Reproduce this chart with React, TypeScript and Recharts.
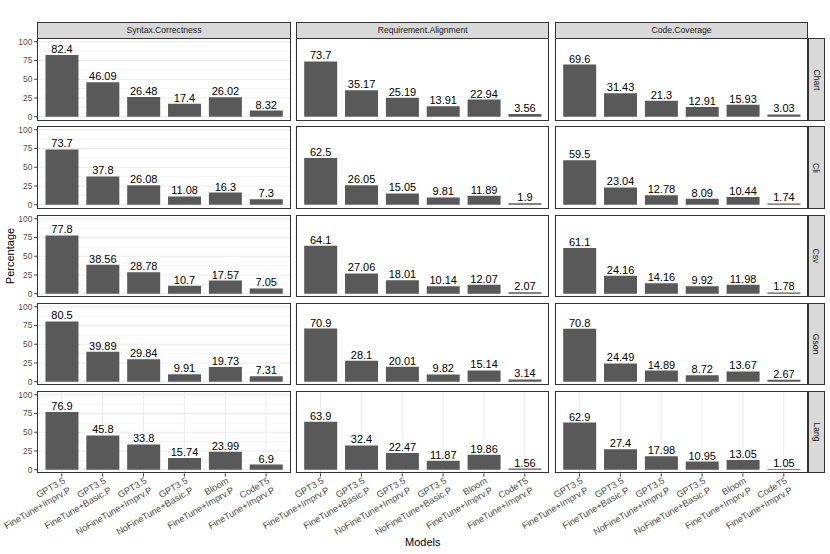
import { Bar, BarChart, CartesianGrid, LabelList, XAxis, YAxis } from "recharts";

const models = [
  "GPT3.5\nFineTune+Imprv.P",
  "GPT3.5\nFineTune+Basic.P",
  "GPT3.5\nNoFineTune+Imprv.P",
  "GPT3.5\nNoFineTune+Basic.P",
  "Bloom\nFineTune+Imprv.P",
  "CodeT5\nFineTune+Imprv.P"
];
const projects = ["Chart", "Cli", "Csv", "Gson", "Lang"];
const metrics = ["Syntax.Correctness", "Requirement.Alignment", "Code.Coverage"];

// rows follow projects order
const syntaxCorrectness = [
  [82.4, 46.09, 26.48, 17.4, 26.02, 8.32],
  [73.7, 37.8, 26.08, 11.08, 16.3, 7.3],
  [77.8, 38.56, 28.78, 10.7, 17.57, 7.05],
  [80.5, 39.89, 29.84, 9.91, 19.73, 7.31],
  [76.9, 45.8, 33.8, 15.74, 23.99, 6.9]
];
const requirementAlignment = [
  [73.7, 35.17, 25.19, 13.91, 22.94, 3.56],
  [62.5, 26.05, 15.05, 9.81, 11.89, 1.9],
  [64.1, 27.06, 18.01, 10.14, 12.07, 2.07],
  [70.9, 28.1, 20.01, 9.82, 15.14, 3.14],
  [63.9, 32.4, 22.47, 11.87, 19.86, 1.56]
];
const codeCoverage = [
  [69.6, 31.43, 21.3, 12.91, 15.93, 3.03],
  [59.5, 23.04, 12.78, 8.09, 10.44, 1.74],
  [61.1, 24.16, 14.16, 9.92, 11.98, 1.78],
  [70.8, 24.49, 14.89, 8.72, 13.67, 2.67],
  [62.9, 27.4, 17.98, 10.95, 13.05, 1.05]
];
const metricValues = [syntaxCorrectness, requirementAlignment, codeCoverage];

const yTicks = [0, 25, 50, 75, 100];
const yMinor = [12.5, 37.5, 62.5, 87.5];

const FONT = "'Liberation Sans', Arial, Helvetica, sans-serif";
const LEFT = 37.3;
const TOP = 38.3;
const PW = 253.3;
const PH = 82.5;
const STEP_X = 258.8;
const STEP_Y = 88.1;
const STRIP = 16.6;
const XAXIS_H = 75;
const PAD_L = 40; // room for rotated labels that lean left

function ModelTick({ x, y, payload }: any) {
  const [top, bottom] = String(payload.value).split("\n");
  return (
    <text
      transform={`translate(${x + 4},${y + 6}) rotate(-30)`}
      textAnchor="end"
      fontSize={9.2}
      fill="#4d4d4d"
      fontFamily={FONT}
    >
      <tspan x={0} dy={0}>{top}</tspan>
      <tspan x={0} dy={10.8}>{bottom}</tspan>
    </text>
  );
}

function Panel({ row, col }: { row: number; col: number }) {
  const rows = models.map((model, i) => ({ model, value: metricValues[col][row][i] }));
  const showY = col === 0;
  const showX = row === projects.length - 1;
  const panelLeft = LEFT + col * STEP_X;
  const left = showY ? 0 : panelLeft - PAD_L;
  const width = showY ? LEFT + PW : PW + PAD_L;
  const height = showX ? PH + XAXIS_H : PH;

  return (
    <div style={{ position: "absolute", left, top: TOP + row * STEP_Y }}>
      <BarChart
        width={width}
        height={height}
        data={rows}
        margin={{ top: 0, right: 0, bottom: 0, left: showY ? 0 : PAD_L }}
        barCategoryGap="10%"
      >
        <CartesianGrid stroke="#ebebeb" strokeWidth={1} horizontalValues={yTicks} />
        <CartesianGrid stroke="#ebebeb" strokeWidth={0.5} vertical={false} horizontalValues={yMinor} />
        <XAxis
          dataKey="model"
          interval={0}
          padding={{ left: 4.1, right: 4.1 }}
          height={showX ? XAXIS_H : 0}
          axisLine={false}
          tickLine={showX ? { stroke: "#333333" } : false}
          tickSize={3}
          tickMargin={0}
          tick={showX ? <ModelTick /> : false}
        />
        <YAxis
          type="number"
          domain={[-5, 105]}
          ticks={yTicks}
          interval={0}
          allowDataOverflow
          width={showY ? LEFT : 0}
          axisLine={false}
          tickLine={showY ? { stroke: "#333333" } : false}
          tickSize={3}
          tickMargin={2}
          tick={showY ? { fill: "#4d4d4d", fontSize: 8.4, fontFamily: FONT } : false}
        />
        <Bar dataKey="value" fill="#595959" isAnimationActive={false}>
          <LabelList dataKey="value" position="top" offset={2} fill="#000000" fontSize={11} fontFamily={FONT} />
        </Bar>
      </BarChart>
      <div
        style={{
          position: "absolute",
          left: showY ? LEFT : PAD_L,
          top: 0,
          width: PW,
          height: PH,
          border: "1px solid #333333",
          boxSizing: "border-box",
          pointerEvents: "none"
        }}
      />
    </div>
  );
}

export default function App() {
  const stripStyle = {
    position: "absolute" as const,
    background: "#d9d9d9",
    border: "1px solid #333333",
    boxSizing: "border-box" as const,
    display: "flex",
    alignItems: "center",
    justifyContent: "center",
    fontSize: 8.6,
    color: "#1a1a1a",
    fontFamily: FONT
  };

  return (
    <div
      style={{
        position: "absolute",
        left: 0,
        top: 0,
        width: 830,
        height: 554,
        background: "#ffffff",
        fontFamily: FONT,
        overflow: "hidden"
      }}
    >
      {metrics.map((m, c) => (
        <div
          key={m}
          style={{ ...stripStyle, left: LEFT + c * STEP_X, top: TOP - STRIP, width: PW, height: STRIP + 0.5 }}
        >
          {m}
        </div>
      ))}
      {projects.map((p, r) => (
        <div
          key={p}
          style={{ ...stripStyle, left: LEFT + 2 * STEP_X + PW - 0.5, top: TOP + r * STEP_Y, width: 17.3, height: PH }}
        >
          <span style={{ transform: "rotate(90deg)", whiteSpace: "nowrap" }}>{p}</span>
        </div>
      ))}
      {projects.map((p, r) => metrics.map((m, c) => <Panel key={p + m} row={r} col={c} />))}
      <div
        style={{
          position: "absolute",
          left: 10,
          top: TOP + (4 * STEP_Y + PH) / 2,
          transform: "translate(-50%, -50%) rotate(-90deg)",
          fontSize: 11,
          color: "#000",
          whiteSpace: "nowrap"
        }}
      >
        Percentage
      </div>
      <div
        style={{
          position: "absolute",
          left: LEFT + (2 * STEP_X + PW) / 2,
          top: 542,
          transform: "translate(-50%, -50%)",
          fontSize: 11,
          color: "#000",
          whiteSpace: "nowrap"
        }}
      >
        Models
      </div>
    </div>
  );
}
